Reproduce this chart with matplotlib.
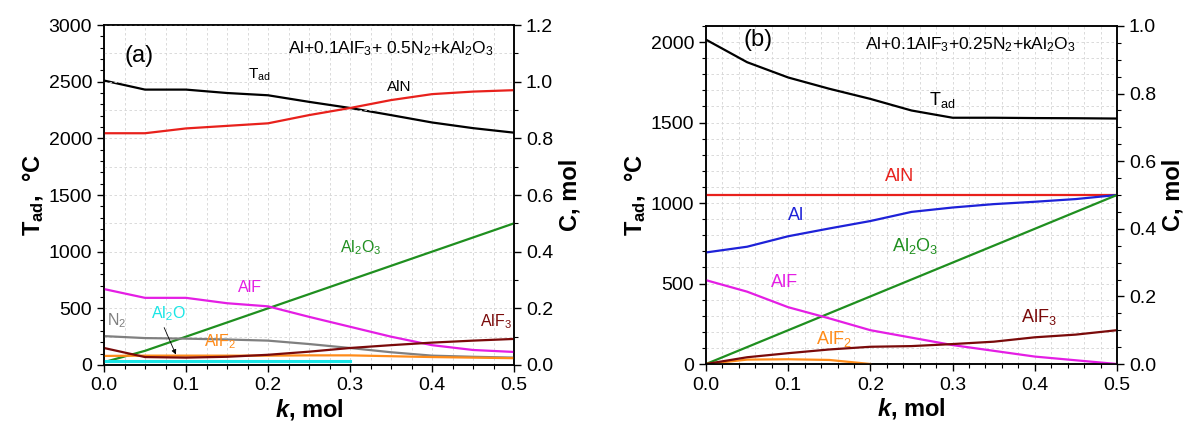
import matplotlib
matplotlib.use("Agg")
import matplotlib.pyplot as plt
from matplotlib.ticker import MultipleLocator

plt.rcParams['font.family'] = ['Liberation Sans', 'DejaVu Sans']
plt.rcParams['mathtext.fontset'] = 'custom'
plt.rcParams['mathtext.rm'] = 'Liberation Sans'
plt.rcParams['mathtext.it'] = 'Liberation Sans:italic'
plt.rcParams['mathtext.bf'] = 'Liberation Sans:bold'
plt.rcParams['mathtext.bfit'] = 'Liberation Sans:bold:italic'

# ---- panel (a): Al+0.1AlF3+0.5N2+kAl2O3 ----
k_a = [0.0, 0.05, 0.1, 0.15, 0.2, 0.25, 0.3, 0.35, 0.4, 0.45, 0.5]
tad_a = [2510, 2430, 2430, 2400, 2380, 2322, 2268, 2205, 2140, 2090, 2050]
aln_a = [0.818, 0.818, 0.835, 0.844, 0.853, 0.882, 0.907, 0.935, 0.956, 0.965, 0.970]
al2o3_a = [0.01, 0.05, 0.1, 0.15, 0.2, 0.25, 0.3, 0.35, 0.4, 0.45, 0.5]
alf_a = [0.268, 0.237, 0.237, 0.218, 0.207, 0.170, 0.135, 0.100, 0.070, 0.053, 0.046]
n2_a = [0.102, 0.095, 0.093, 0.090, 0.086, 0.074, 0.060, 0.045, 0.033, 0.029, 0.026]
alf3_a = [0.060, 0.028, 0.026, 0.029, 0.036, 0.047, 0.060, 0.070, 0.079, 0.086, 0.092]
alf2_a = [0.032, 0.033, 0.033, 0.033, 0.033, 0.034, 0.034, 0.031, 0.028, 0.026, 0.024]
k_al2o = [0.0, 0.1, 0.2, 0.3]
al2o_a = [0.014, 0.014, 0.014, 0.014]

# ---- panel (b): Al+0.1AlF3+0.25N2+kAl2O3 ----
k_b = [0.0, 0.05, 0.1, 0.15, 0.2, 0.25, 0.3, 0.35, 0.4, 0.45, 0.5]
tad_b = [2015, 1875, 1780, 1710, 1647, 1575, 1530, 1530, 1528, 1527, 1525]
aln_b = [0.5, 0.5, 0.5, 0.5, 0.5, 0.5, 0.5, 0.5, 0.5, 0.5, 0.5]
al_b = [0.330, 0.347, 0.378, 0.401, 0.423, 0.450, 0.463, 0.473, 0.480, 0.488, 0.500]
al2o3_b = [0.0, 0.05, 0.1, 0.15, 0.2, 0.25, 0.3, 0.35, 0.4, 0.45, 0.5]
alf_b = [0.248, 0.214, 0.168, 0.135, 0.100, 0.078, 0.056, 0.039, 0.022, 0.011, 0.0]
alf3_b = [0.0, 0.020, 0.032, 0.043, 0.051, 0.053, 0.059, 0.066, 0.079, 0.087, 0.100]
k_alf2b = [0.0, 0.05, 0.1, 0.15, 0.175, 0.2]
alf2_b = [0.0, 0.013, 0.014, 0.012, 0.006, 0.0]

BLACK, RED, GREEN, MAG = 'black', '#e8211c', '#1f8f1f', '#e41ee4'
GREY, DRED, ORANGE, CYAN, BLUE = '#808080', '#7a0a0a', '#ff8c1a', '#19e6e6', '#1e22d8'
lw = 1.6

fig = plt.figure(figsize=(11.86, 4.29), dpi=100)
axa = fig.add_axes([0.0877, 0.1492, 0.3457, 0.7925])
axb = fig.add_axes([0.5953, 0.1515, 0.3465, 0.7879])


def style(ax, ax2, ymax, ymaj, ymin, cmax, cmaj, cmin, xmin_step):
    ax.set_xlim(0, 0.5)
    ax.set_ylim(0, ymax)
    ax2.set_ylim(0, cmax)
    ax.xaxis.set_major_locator(MultipleLocator(0.1))
    ax.xaxis.set_minor_locator(MultipleLocator(xmin_step))
    ax.yaxis.set_major_locator(MultipleLocator(ymaj))
    ax.yaxis.set_minor_locator(MultipleLocator(ymin))
    ax2.yaxis.set_major_locator(MultipleLocator(cmaj))
    ax2.yaxis.set_minor_locator(MultipleLocator(cmin))
    ax.xaxis.set_major_formatter(lambda v, p: f"{v:.1f}")
    ax2.yaxis.set_major_formatter(lambda v, p: f"{v:.1f}")
    for a in (ax, ax2):
        a.tick_params(which='major', direction='out', length=5, width=1, labelsize=14)
        a.tick_params(which='minor', direction='out', length=3, width=0.8)
        for s in a.spines.values():
            s.set_linewidth(1.1)
    ax.tick_params(axis='x', pad=4)
    ax.grid(True, axis='x', which='both', ls=(0, (3, 3)), color='#d4d4d4', lw=0.6)
    ax.set_xlabel(r'$\mathbfit{k}$, mol', fontsize=17, fontweight='bold', labelpad=2)
    ax.set_ylabel(r'$\mathbf{T_{ad}}$,  °C', fontsize=17, fontweight='bold', labelpad=2)
    ax2.set_ylabel('C, mol', fontsize=17, fontweight='bold', labelpad=4)


# panel (a)
axa2 = axa.twinx()
style(axa, axa2, 3000, 500, 100, 1.2, 0.2, 0.1, 0.025)
axa2.grid(True, axis='y', which='both', ls=(0, (3, 3)), color='#d4d4d4', lw=0.6)
axa.plot(k_a, tad_a, color=BLACK, lw=lw)
axa2.plot(k_a, aln_a, color=RED, lw=lw)
axa2.plot(k_a, al2o3_a, color=GREEN, lw=lw)
axa2.plot(k_a, alf_a, color=MAG, lw=lw)
axa2.plot(k_a, n2_a, color=GREY, lw=lw)
axa2.plot(k_a, alf2_a, color=ORANGE, lw=lw)
axa2.plot(k_a, alf3_a, color=DRED, lw=lw)
axa2.plot(k_al2o, al2o_a, color=CYAN, lw=2.2)

axa2.text(0.025, 1.07, '(a)', fontsize=17)
axa2.text(0.35, 1.115, r'Al+0.1AlF$_3$+ 0.5N$_2$+kAl$_2$O$_3$', fontsize=12.5, ha='center', va='center')
axa2.text(0.19, 1.025, r'T$_{\rm ad}$', fontsize=11, ha='center', va='center')
axa2.text(0.36, 0.98, 'AlN', fontsize=11, ha='center', va='center')
axa2.text(0.313, 0.413, r'Al$_2$O$_3$', fontsize=11.5, color=GREEN, ha='center', va='center')
axa2.text(0.178, 0.275, 'AlF', fontsize=11.5, color=MAG, ha='center', va='center')
axa2.text(0.016, 0.155, r'N$_2$', fontsize=11.5, color=GREY, ha='center', va='center')
axa2.text(0.079, 0.180, r'Al$_2$O', fontsize=11.5, color=CYAN, ha='center', va='center')
axa2.text(0.141, 0.082, r'AlF$_2$', fontsize=11.5, color=ORANGE, ha='center', va='center')
axa2.text(0.478, 0.152, r'AlF$_3$', fontsize=11.5, color=DRED, ha='center', va='center')
axa2.annotate('', xy=(0.089, 0.028), xytext=(0.072, 0.141),
              arrowprops=dict(arrowstyle='-|>', color='black', lw=0.6, mutation_scale=7))

# panel (b)
axb2 = axb.twinx()
style(axb, axb2, 2100, 500, 100, 1.0, 0.2, 0.05, 0.02)
axb.grid(True, axis='y', which='both', ls=(0, (3, 3)), color='#d4d4d4', lw=0.6)
axb.plot(k_b, tad_b, color=BLACK, lw=lw)
axb2.plot(k_b, aln_b, color=RED, lw=lw)
axb2.plot(k_b, al_b, color=BLUE, lw=lw)
axb2.plot(k_b, al2o3_b, color=GREEN, lw=lw)
axb2.plot(k_b, alf_b, color=MAG, lw=lw)
axb2.plot(k_alf2b, alf2_b, color=ORANGE, lw=lw)
axb2.plot(k_b, alf3_b, color=DRED, lw=lw)

axb2.text(0.045, 0.94, '(b)', fontsize=17)
axb2.text(0.322, 0.945, r'Al+0.1AlF$_3$+0.25N$_2$+kAl$_2$O$_3$', fontsize=12.5, ha='center', va='center')
axb2.text(0.287, 0.78, r'T$_{\rm ad}$', fontsize=13, ha='center', va='center')
axb2.text(0.235, 0.555, 'AlN', fontsize=13, color=RED, ha='center', va='center')
axb2.text(0.109, 0.44, 'Al', fontsize=13, color=BLUE, ha='center', va='center')
axb2.text(0.255, 0.35, r'Al$_2$O$_3$', fontsize=13, color=GREEN, ha='center', va='center')
axb2.text(0.095, 0.24, 'AlF', fontsize=13, color=MAG, ha='center', va='center')
axb2.text(0.155, 0.075, r'AlF$_2$', fontsize=13, color=ORANGE, ha='center', va='center')
axb2.text(0.405, 0.14, r'AlF$_3$', fontsize=13, color=DRED, ha='center', va='center')

fig.savefig('out.png', dpi=100)
